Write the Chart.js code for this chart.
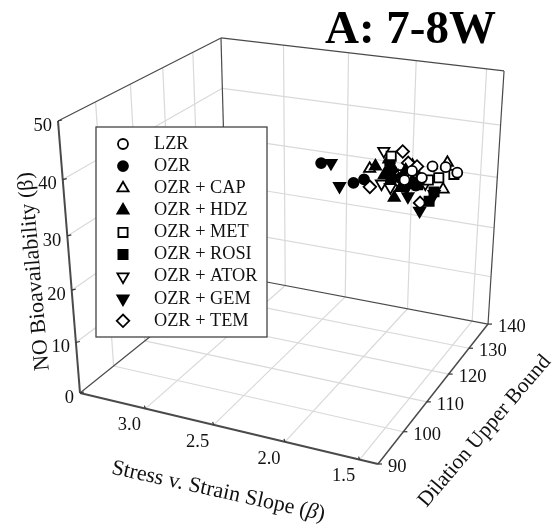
<!DOCTYPE html>
<html>
<head>
<meta charset="utf-8">
<style>
  html, body { margin: 0; padding: 0; background: #fff; }
  canvas { display: block; }
</style>
<script src="https://cdn.jsdelivr.net/npm/chart.js@4/dist/chart.umd.js"></script>
</head>
<body>
<canvas id="chart3d" width="555" height="529"></canvas>
<script>
// tick labels
const slopeTicks = [3.0, 2.5, 2.0, 1.5];
const dilationTicks = [90, 100, 110, 120, 130, 140];
const noTicks = [0, 10, 20, 30, 40, 50];

// [slope, dilation, NO bioavailability]
const LZR = [[1.63,125,36.7],[1.54,125,36.9],[1.46,125,36.2],[1.77,125,35.3],[1.70,125,34.3],[1.82,125,33.4]];
const OZR = [[2.14,110,40.8],[1.92,110,38.2],[1.85,110,39.1],[1.51,110,39.4],[1.61,110,40.3],[1.67,110,41.5]];
const CAP = [[1.95,118,37.6],[1.66,118,39.3],[1.45,118,35.9],[1.43,118,40.7],[1.64,118,38.3],[1.82,118,39.8]];
const HDZ = [[1.81,112,40.8],[1.68,112,35.8],[1.56,112,39.1],[1.75,112,39.5],[1.61,112,40.9],[1.64,112,37.7],[1.52,112,39.9]];
const MET = [[1.87,122,38.7],[1.54,122,36.1],[1.44,122,37.1],[1.76,122,34.8],[1.61,122,35.4]];
const ROSI = [[1.78,116,39.7],[1.48,116,36.1],[1.51,116,34.3],[1.59,116,36.9],[1.77,116,37.1],[1.78,116,38.3],[1.64,116,37.0]];
const ATOR = [[1.79,114,42.8],[1.80,114,37.0],[1.74,114,36.6],[1.66,114,39.4],[1.51,114,38.2]];
const GEM = [[2.11,112,40.2],[2.05,112,36.3],[1.59,112,36.4],[1.51,112,34.2],[1.42,112,37.5],[1.70,112,40.1],[1.60,112,37.9]];
const TEM = [[1.76,120,40.7],[1.72,120,38.8],[1.98,120,33.4],[1.63,120,31.9],[1.66,120,38.4],[1.77,120,35.0]];

// box limits
const slopeRange = [3.5, 1.38];
const dilationRange = [90, 140];
const noRange = [0, 50];

// screen position of the box corners + perspective weights
const O = [80, 393], A = [378, 464], B = [227.4, 274.5], C = [58, 121];
const wA = 0.911, wB = 1.181, wC = 0.9115;

function project(s, d, n) {
    const u = (s - slopeRange[0]) / (slopeRange[1] - slopeRange[0]);
    const v = (d - dilationRange[0]) / (dilationRange[1] - dilationRange[0]);
    const w = (n - noRange[0]) / (noRange[1] - noRange[0]);
    const den = 1 + u * (wA - 1) + v * (wB - 1) + w * (wC - 1);
    return {
        x: (O[0] + u * (wA * A[0] - O[0]) + v * (wB * B[0] - O[0]) + w * (wC * C[0] - O[0])) / den,
        y: (O[1] + u * (wA * A[1] - O[1]) + v * (wB * B[1] - O[1]) + w * (wC * C[1] - O[1])) / den
    };
}

const [sLo, sHi] = slopeRange, [dLo, dHi] = dilationRange, [nLo, nHi] = noRange;

function line(p, q, color, width, order) {
    return {
        type: 'scatter', showLine: true, pointRadius: 0, order: order,
        borderColor: color, borderWidth: width,
        data: [project(p[0], p[1], p[2]), project(q[0], q[1], q[2])]
    };
}

const GRID = '#d9d9d9', EDGE = '#4a4a4a';
const datasets = [];

// gridlines
slopeTicks.forEach(s => {
    datasets.push(line([s, dLo, nLo], [s, dHi, nLo], GRID, 1.2, 100));
    datasets.push(line([s, dHi, nLo], [s, dHi, nHi], GRID, 1.2, 100));
});
dilationTicks.slice(1, -1).forEach(d => {
    datasets.push(line([sHi, d, nLo], [sLo, d, nLo], GRID, 1.2, 100));
    datasets.push(line([sLo, d, nLo], [sLo, d, nHi], GRID, 1.2, 100));
});
noTicks.slice(1, -1).forEach(n => {
    datasets.push(line([sLo, dLo, n], [sLo, dHi, n], GRID, 1.2, 100));
    datasets.push(line([sLo, dHi, n], [sHi, dHi, n], GRID, 1.2, 100));
});

// box edges
[
    [[sLo, dLo, nLo], [sHi, dLo, nLo], 2],
    [[sHi, dLo, nLo], [sHi, dHi, nLo], 1.5],
    [[sLo, dLo, nLo], [sLo, dLo, nHi], 2],
    [[sLo, dLo, nLo], [sLo, dHi, nLo], 1.2],
    [[sLo, dHi, nLo], [sHi, dHi, nLo], 1.2],
    [[sLo, dHi, nLo], [sLo, dHi, nHi], 1.2],
    [[sHi, dHi, nLo], [sHi, dHi, nHi], 1.2],
    [[sLo, dLo, nHi], [sLo, dHi, nHi], 1.2],
    [[sLo, dHi, nHi], [sHi, dHi, nHi], 1.2]
].forEach(e => datasets.push(line(e[0], e[1], EDGE, e[2], 90)));

// series, lower order is drawn on top
const seriesDefs = [
    { label: 'LZR',        rows: LZR,  style: 'circle',   fill: '#fff', radius: 5,   rot: 0,   order: 1 },
    { label: 'OZR',        rows: OZR,  style: 'circle',   fill: '#000', radius: 5,   rot: 0,   order: 2 },
    { label: 'OZR + CAP',  rows: CAP,  style: 'triangle', fill: '#fff', radius: 6.5, rot: 0,   order: 5 },
    { label: 'OZR + HDZ',  rows: HDZ,  style: 'triangle', fill: '#000', radius: 6.5, rot: 0,   order: 2 },
    { label: 'OZR + MET',  rows: MET,  style: 'rect',     fill: '#fff', radius: 6.5, rot: 0,   order: 4 },
    { label: 'OZR + ROSI', rows: ROSI, style: 'rect',     fill: '#000', radius: 6.5, rot: 0,   order: 2 },
    { label: 'OZR + ATOR', rows: ATOR, style: 'triangle', fill: '#fff', radius: 6.5, rot: 180, order: 6 },
    { label: 'OZR + GEM',  rows: GEM,  style: 'triangle', fill: '#000', radius: 6.5, rot: 180, order: 2 },
    { label: 'OZR + TEM',  rows: TEM,  style: 'rectRot',  fill: '#fff', radius: 6.3, rot: 0,   order: 4 }
];
seriesDefs.forEach(sd => {
    datasets.push({
        type: 'scatter', label: sd.label, order: sd.order,
        pointStyle: sd.style, pointRadius: sd.radius, pointRotation: sd.rot,
        pointBackgroundColor: sd.fill, pointBorderColor: '#000', pointBorderWidth: 1.8,
        data: sd.rows.map(r => project(r[0], r[1], r[2]))
    });
});

const SERIF = '"Liberation Serif", serif';

function rotated(ctx, parts, cx, cy, deg, size) {
    ctx.save();
    ctx.translate(cx, cy);
    ctx.rotate(deg * Math.PI / 180);
    ctx.textBaseline = 'alphabetic';
    ctx.textAlign = 'left';
    let total = 0;
    parts.forEach(p => { ctx.font = (p[1] || '') + ' ' + size + 'px ' + SERIF; total += ctx.measureText(p[0]).width; });
    let x = -total / 2;
    parts.forEach(p => {
        ctx.font = (p[1] || '') + ' ' + size + 'px ' + SERIF;
        ctx.fillText(p[0], x, 0);
        x += ctx.measureText(p[0]).width;
    });
    ctx.restore();
}

// ticks, labels, titles and the legend box sit on top of the scatter
const overlay = {
    id: 'overlay',
    afterDatasetsDraw(chart) {
        const ctx = chart.ctx;
        ctx.save();
        ctx.fillStyle = '#111';
        ctx.strokeStyle = '#333';
        ctx.lineWidth = 1.2;
        ctx.font = '18.5px ' + SERIF;
        ctx.textBaseline = 'middle';

        ctx.textAlign = 'right';
        noTicks.forEach(n => {
            const p = project(sLo, dLo, n);
            ctx.beginPath(); ctx.moveTo(p.x, p.y); ctx.lineTo(p.x + 4, p.y - 1); ctx.stroke();
            ctx.fillText(String(n), p.x - 6, p.y + 5);
        });
        ctx.textAlign = 'center';
        slopeTicks.forEach(s => {
            const p = project(s, dLo, nLo);
            ctx.beginPath(); ctx.moveTo(p.x, p.y); ctx.lineTo(p.x - 1, p.y - 3); ctx.stroke();
            ctx.fillText(s.toFixed(1), p.x - 16, p.y + 17);
        });
        ctx.textAlign = 'left';
        dilationTicks.forEach(d => {
            const p = project(sHi, d, nLo);
            ctx.beginPath(); ctx.moveTo(p.x, p.y); ctx.lineTo(p.x + 4, p.y); ctx.stroke();
            ctx.fillText(String(d), p.x + 10, p.y + 3);
        });

        // axis titles
        rotated(ctx, [['NO Bioavailability ('], ['\u03b2'], [')']], 40, 271, -95, 22);
        rotated(ctx, [['Stress v. Strain Slope ('], ['\u03b2', 'italic'], [')']], 217, 497, 12.5, 22);
        rotated(ctx, [['Dilation Upper Bound']], 489, 435, -49.5, 21.5);

        // chart title
        ctx.fillStyle = '#000';
        ctx.textAlign = 'left';
        ctx.textBaseline = 'alphabetic';
        ctx.font = 'bold 47px ' + SERIF;
        ctx.fillText('A: 7-8W', 325, 43);

        // legend
        ctx.fillStyle = '#fff';
        ctx.strokeStyle = '#444';
        ctx.lineWidth = 1.3;
        ctx.fillRect(96, 127, 171, 210);
        ctx.strokeRect(96, 127, 171, 210);
        seriesDefs.forEach((sd, i) => {
            const y = 144 + i * 22.1;
            ctx.fillStyle = sd.fill;
            ctx.strokeStyle = '#000';
            ctx.lineWidth = 1.8;
            Chart.helpers.drawPoint(ctx, { pointStyle: sd.style, radius: sd.radius, rotation: sd.rot, borderWidth: 1.8 }, 123, y);
            ctx.fillStyle = '#111';
            ctx.font = '18.3px ' + SERIF;
            ctx.textAlign = 'left';
            ctx.textBaseline = 'middle';
            ctx.fillText(sd.label, 154, y);
        });
        ctx.restore();
    }
};

new Chart(document.getElementById('chart3d'), {
    type: 'scatter',
    data: { datasets: datasets },
    options: {
        responsive: false,
        animation: false,
        layout: { padding: 0, autoPadding: false },
        plugins: { legend: { display: false }, tooltip: { enabled: false }, title: { display: false } },
        scales: {
            x: { type: 'linear', min: 0, max: 555, display: false },
            y: { type: 'linear', min: 0, max: 529, reverse: true, display: false }
        }
    },
    plugins: [overlay]
});
</script>
</body>
</html>
